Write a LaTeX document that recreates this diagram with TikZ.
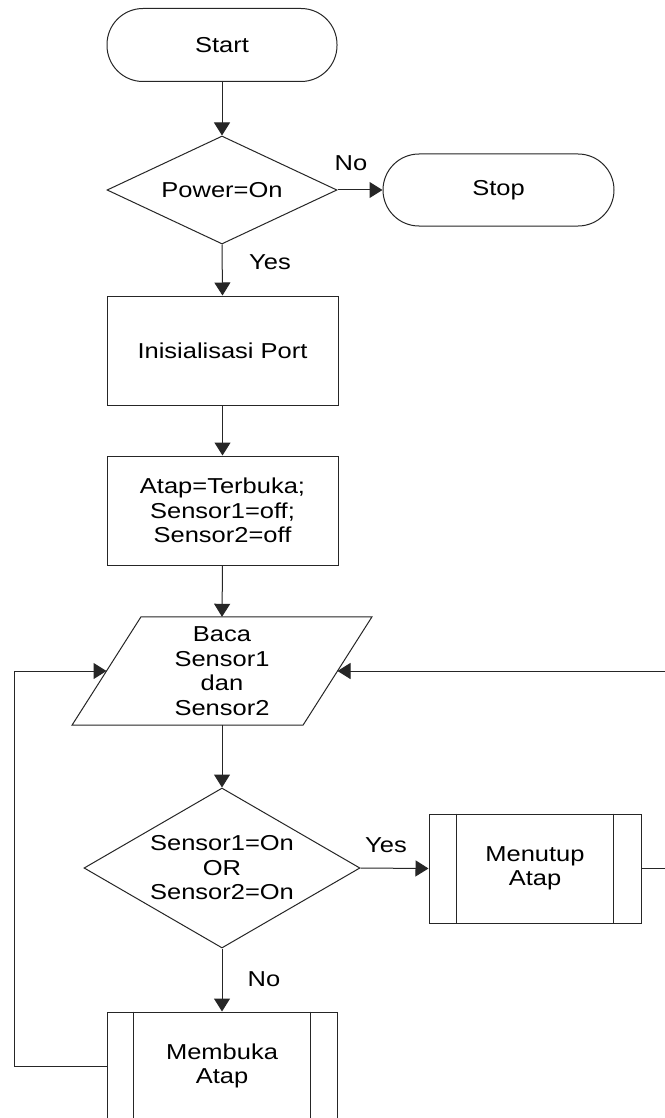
\documentclass[tikz,border=0pt]{standalone}
\usepackage{fontspec}
\setmainfont[FakeStretch=1.18]{Liberation Sans}
\usetikzlibrary{arrows.meta,shapes.geometric,calc}

\begin{document}
\begin{tikzpicture}[x=1pt,y=-1pt,
  every node/.style={font=\fontsize{21.6}{24.5}\selectfont, align=center, inner sep=0pt, text=black},
  ln/.style={line width=1pt, draw=black!85},
  flow/.style={ln, -{Triangle[length=13pt,width=16pt]}},
  term/.style={ln, rectangle, rounded corners=36pt, minimum width=230pt, minimum height=73pt},
  proc/.style={ln, rectangle, minimum width=231pt, minimum height=109pt},
  decide/.style={ln, diamond},
  io/.style={rectangle, minimum width=230pt, minimum height=108pt},
  subproc/.style={ln, rectangle, minimum height=109pt},
  lbl/.style={font=\fontsize{21.6}{24.5}\selectfont}
]
\useasboundingbox (0,0) rectangle (664,1118);
\fill[white] (0,0) rectangle (664,1118);

% terminators
\node[term] (start) at (222,45) {Start};
\node[term, minimum width=231pt, minimum height=72pt] (stop) at (498.5,190) {Stop};

% power check
\node[decide, minimum width=230pt, minimum height=108pt, aspect=2.13] (power) at (222,190) {Power=On};

% initialisation steps
\node[proc] (init) at (222.5,350.5) {Inisialisasi Port};
\node[proc] (atap) at (222.5,510.5) {Atap=Terbuka;\\Sensor1=off;\\Sensor2=off};

% sensor input (parallelogram drawn around the text node)
\node[io] (baca) at (222,671) {Baca\\Sensor1\\dan\\Sensor2};
\draw[ln] ([xshift=-81pt]baca.north) -- ([xshift=150pt]baca.north)
  -- ([xshift=81pt]baca.south) -- ([xshift=-150pt]baca.south) -- cycle;
\coordinate (bacaL) at ($(baca.center)+(-115.5,0)$);
\coordinate (bacaR) at ($(baca.center)+(115.5,0)$);

% sensor decision
\node[decide, minimum width=276pt, minimum height=160pt, aspect=1.725] (sensor) at (222,868) {Sensor1=On\\OR\\Sensor2=On};

% sub-processes
\node[subproc, minimum width=212pt] (menutup) at (535,868.5) {Menutup\\Atap};
\draw[ln] ([xshift=28pt]menutup.north west) -- ([xshift=28pt]menutup.south west);
\draw[ln] ([xshift=-28pt]menutup.north east) -- ([xshift=-28pt]menutup.south east);

\node[subproc, minimum width=230pt, minimum height=108pt] (membuka) at (222,1066) {Membuka\\Atap};
\draw[ln] ([xshift=27pt]membuka.north west) -- ([xshift=27pt]membuka.south west);
\draw[ln] ([xshift=-27pt]membuka.north east) -- ([xshift=-27pt]membuka.south east);

% loop rails
\coordinate (railL) at (14,0);
\coordinate (railR) at (668,0);

% connectors
\draw[flow] (start.south) -- (power.north);
\draw[flow] (power.east) -- (stop.west);
\draw[flow] (power.south) -- (init.north);
\draw[flow] (init.south) -- (atap.north);
\draw[flow] (atap.south) -- (baca.north);
\draw[flow] (baca.south) -- (sensor.north);
\draw[flow] (sensor.east) -- (menutup.west);
\draw[flow] (sensor.south) -- (membuka.north);
\draw[flow] (membuka.west) -- (membuka.west -| railL) -- (bacaL -| railL) -- (bacaL);
\draw[flow] (menutup.east) -- (menutup.east -| railR) -- (bacaR -| railR) -- (bacaR);

% branch labels
\node[lbl] (noPower) at (351,163) {No};
\node[lbl] (yesPower) at (270,262) {Yes};
\node[lbl] (yesSensor) at (386,845) {Yes};
\node[lbl] (noSensor) at (264,979) {No};
\end{tikzpicture}
\end{document}
